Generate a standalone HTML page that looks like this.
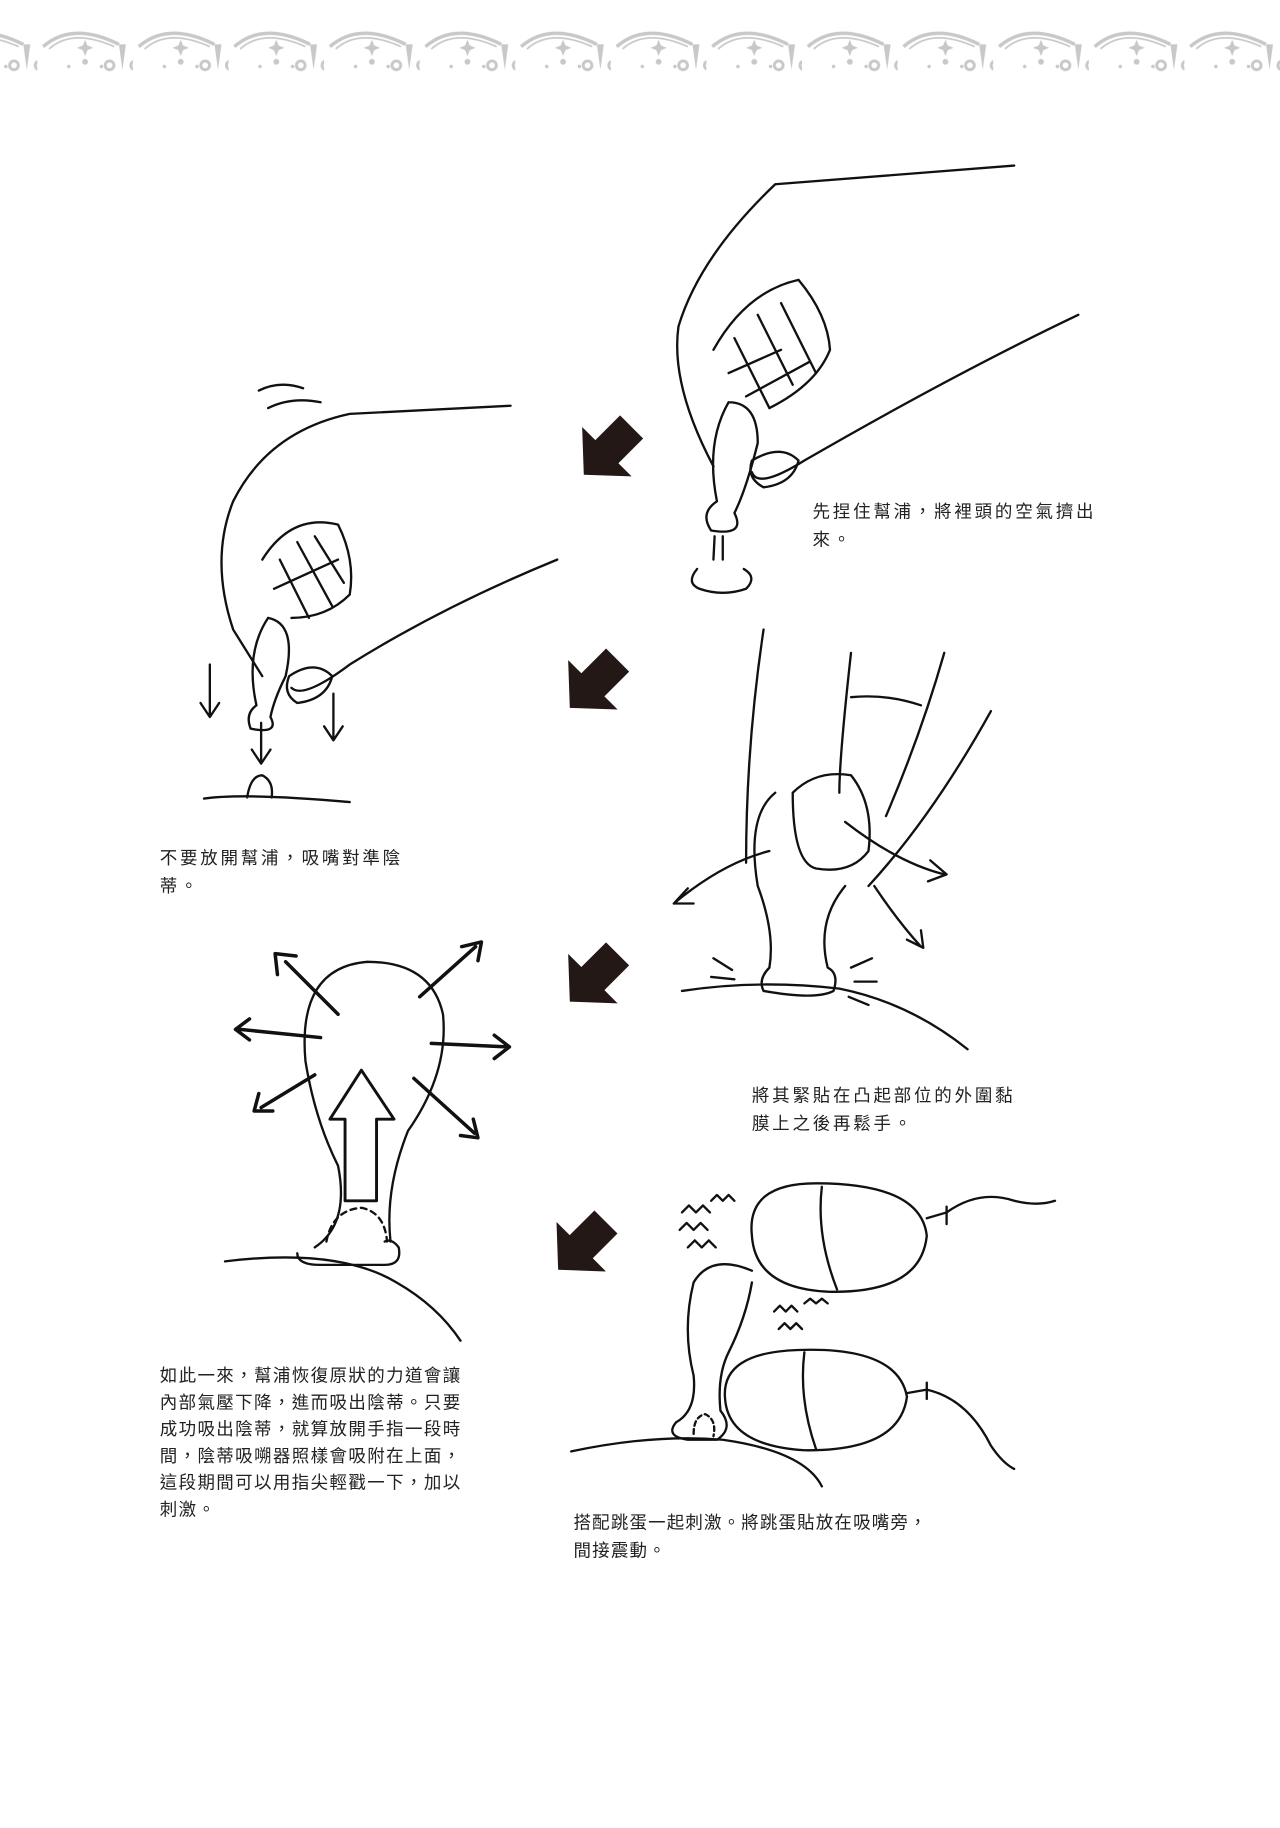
<!DOCTYPE html>
<html><head><meta charset="utf-8"><style>
html,body{margin:0;padding:0;background:#fff;}
svg{display:block}
text{font-family:"Liberation Sans","Noto Sans CJK TC",sans-serif;font-size:15px;fill:#222;letter-spacing:2.4px}
</style></head><body>
<svg width="1280" height="1828" viewBox="0 0 1098 1568" xmlns="http://www.w3.org/2000/svg">
<defs>
<pattern id="bd" x="-50" y="0" width="82" height="70" patternUnits="userSpaceOnUse">
<g fill="none" stroke="#c8c8c8" stroke-width="3">
<path d="M5 40 Q30 18 70 38"/>
<path d="M10 42 Q30 24 66 40" stroke-width="1.5"/>
</g>
<g fill="#c8c8c8">
<path d="M70 38 L73 60 L76 38 Z"/>
<circle cx="62" cy="56" r="5"/><circle cx="84" cy="56" r="5"/>
<path d="M41 34 l2 5 5 2 -5 2 -2 5 -2 -5 -5 -2 5 -2z"/>
<circle cx="41" cy="53" r="2.5"/><circle cx="27" cy="57" r="1.5"/><circle cx="55" cy="57" r="1.5"/>
</g>
<circle cx="62" cy="56" r="2.5" fill="#fff"/><circle cx="84" cy="56" r="2.5" fill="#fff"/>
</pattern>
<path id="ar" d="M-28,-14 L2,-14 L2,-30 L30,0 L2,30 L2,14 L-28,14 Z" fill="#231815"/>
</defs>
<rect x="0" y="10" width="1098" height="60" fill="url(#bd)"/>

<use href="#ar" transform="translate(522,386) rotate(135)"/>
<use href="#ar" transform="translate(510,586) rotate(135)"/>
<use href="#ar" transform="translate(510,838) rotate(135)"/>
<use href="#ar" transform="translate(500,1068) rotate(135)"/>

<g fill="none" stroke="#111" stroke-width="2" stroke-linecap="round" stroke-linejoin="round">
<path d="M870 142 L665 158 Q600 220 582 280 Q575 330 612 400"/>
<path d="M925 270 Q820 320 690 395 Q650 420 645 405"/>
<path d="M612 300 Q640 250 685 240 Q710 270 712 300 Q700 330 660 350"/>
<path d="M630 290 L660 350 M650 270 L680 330 M670 260 L700 320 M625 320 L670 300 M640 340 L695 310"/>
<path d="M625 345 Q650 345 650 380 Q640 420 630 440 Q640 460 610 455 Q600 440 615 430 Q605 380 625 345"/>
<path d="M645 395 Q670 380 685 395 Q680 415 655 418 Q640 410 645 395"/>
<path d="M613 460 L612 480 M620 460 L620 480 M598 488 Q588 500 600 505 Q620 512 640 505 Q650 495 638 488"/>
<path d="M438 348 L300 355 Q230 370 200 430 Q180 480 200 540 L225 580"/>
<path d="M222 335 Q240 326 260 333 M230 350 Q250 340 275 345"/>
<path d="M478 480 Q380 520 300 570 Q260 600 250 590"/>
<path d="M225 480 Q250 440 290 450 Q305 480 300 510 Q280 530 250 530"/>
<path d="M240 480 L265 530 M255 465 L285 520 M270 460 L295 500 M235 505 L290 480"/>
<path d="M230 530 Q255 535 245 580 Q235 600 232 615 Q240 630 215 625 Q210 612 220 605 Q210 560 230 530"/>
<path d="M248 580 Q270 565 285 580 Q280 600 255 603 Q242 595 248 580"/>
<path d="M180 570 L180 615 M172 603 L180 615 L188 603"/>
<path d="M286 595 L286 635 M278 623 L286 635 L294 623"/>
<path d="M224 620 L224 655 M216 643 L224 655 L232 643"/>
<path d="M175 685 Q210 680 300 688 M212 684 Q215 665 225 665 Q235 670 233 684"/>
<path d="M655 540 Q640 640 640 740 M730 560 Q720 650 720 680 M810 560 Q790 630 760 700 M850 610 Q800 700 745 760"/>
<path d="M730 598 Q760 595 790 605"/>
<path d="M680 680 Q700 660 730 665 Q750 690 745 730 Q730 750 700 745 Q680 740 680 680"/>
<path d="M665 680 Q640 700 650 760 Q665 800 660 830 Q650 840 655 850 Q700 858 715 850 Q720 835 710 830 Q700 790 725 760"/>
<path d="M725 705 Q770 740 810 750 M798 738 L812 750 L796 756"/>
<path d="M660 730 Q620 740 578 775 M590 762 L578 775 L595 775"/>
<path d="M750 760 Q770 790 790 812 M778 806 L792 813 L790 798"/>
<path d="M585 850 Q650 840 720 848 Q780 860 830 900"/>
<path d="M612 822 L628 832 M610 838 L630 840 M730 830 L748 822 M733 842 L752 842 M728 855 L745 862"/>
<path d="M270 1070 Q300 1050 290 1000 Q270 960 262 910 Q255 830 315 825 Q370 825 380 870 Q385 920 350 970 Q330 1020 335 1065"/>
<path d="M255 1075 Q255 1085 275 1085 L330 1085 Q345 1085 342 1070 Q336 1062 330 1065" />
<path d="M280 1065 Q285 1038 310 1036 Q330 1040 332 1065" stroke-dasharray="5 4"/>
<path d="M193 1082 Q290 1070 340 1100 Q375 1120 395 1150"/>
<path d="M296 1030 L296 960 L283 960 L310 918 L338 960 L323 960 L323 1030 Z" stroke-width="2.5"/>
<path d="M290 870 L245 825 M238 836 L236 818 L254 820" stroke-width="3"/>
<path d="M360 855 L408 812 M396 812 L413 808 L410 824" stroke-width="3"/>
<path d="M275 890 L206 883 M214 874 L202 883 L214 892" stroke-width="3"/>
<path d="M370 895 L435 898 M424 888 L437 898 L424 908" stroke-width="3"/>
<path d="M270 922 L224 950 M222 938 L218 953 L234 953" stroke-width="3"/>
<path d="M355 925 L407 972 M395 974 L410 976 L406 960" stroke-width="3"/>
<path d="M645 1060 Q640 1015 700 1015 Q790 1015 795 1060 Q790 1110 710 1108 Q648 1105 645 1060"/>
<path d="M705 1018 Q700 1060 718 1106"/>
<path d="M795 1045 L812 1040 M812 1035 L812 1050 M812 1040 Q840 1020 870 1030 Q890 1035 905 1030"/>
<path d="M622 1200 Q618 1160 685 1158 Q770 1155 778 1198 Q772 1245 690 1244 Q625 1240 622 1200"/>
<path d="M690 1160 Q685 1200 700 1243"/>
<path d="M778 1195 L795 1192 M795 1186 L795 1200 M795 1192 Q830 1200 850 1240 Q860 1255 870 1260"/>
<path d="M645 1090 Q610 1075 595 1100 Q585 1140 595 1180 Q598 1210 580 1220 Q570 1232 590 1235 L615 1235 Q630 1225 618 1210 Q615 1180 625 1160 Q640 1130 645 1100"/>
<path d="M595 1230 Q595 1215 605 1213 Q615 1218 612 1232" stroke-dasharray="4 3"/>
<path d="M490 1245 Q560 1230 620 1235 Q690 1245 705 1275"/>
<path d="M585 1040 l6 -6 6 6 6 -6 6 6 M583 1055 l6 -6 6 6 6 -6 6 6 M590 1070 l6 -6 6 6 6 -6 6 6 M610 1030 l5 -5 5 5 5 -5 5 5"/>
<path d="M664 1125 l5 -5 5 5 5 -5 5 5 M668 1140 l5 -5 5 5 5 -5 5 5 M690 1118 l5 -4 5 4 5 -4 5 4"/>
</g>

<text x="697" y="444">先捏住幫浦，將裡頭的空氣擠出</text>
<text x="697" y="468">來。</text>
<text x="137" y="741">不要放開幫浦，吸嘴對準陰</text>
<text x="137" y="765">蒂。</text>
<text x="645" y="945">將其緊貼在凸起部位的外圍黏</text>
<text x="645" y="969">膜上之後再鬆手。</text>
<text x="137" y="1185" style="letter-spacing:1.2px">如此一來，幫浦恢復原狀的力道會讓</text>
<text x="137" y="1208" style="letter-spacing:1.2px">內部氣壓下降，進而吸出陰蒂。只要</text>
<text x="137" y="1231" style="letter-spacing:1.2px">成功吸出陰蒂，就算放開手指一段時</text>
<text x="137" y="1254" style="letter-spacing:1.2px">間，陰蒂吸嗍器照樣會吸附在上面，</text>
<text x="137" y="1277" style="letter-spacing:1.2px">這段期間可以用指尖輕戳一下，加以</text>
<text x="137" y="1300" style="letter-spacing:1.2px">刺激。</text>
<text x="492" y="1311" style="letter-spacing:1px">搭配跳蛋一起刺激。將跳蛋貼放在吸嘴旁，</text>
<text x="492" y="1335" style="letter-spacing:1px">間接震動。</text>
</svg>
</body></html>
